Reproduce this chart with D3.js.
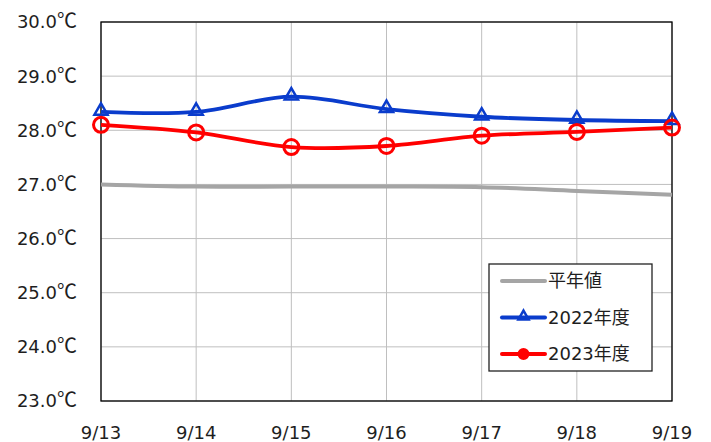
<!DOCTYPE html>
<html>
<head>
<meta charset="utf-8">
<script src="https://cdn.jsdelivr.net/npm/d3@7"></script>
<style>
  body { margin: 0; background: #fff; }
  svg text { font-family: "DejaVu Sans", "Noto Sans CJK JP", sans-serif; fill: #1e1e1e; }
  .cjk { font-family: "Noto Sans CJK JP", sans-serif; }
</style>
</head>
<body>
<div id="chart"></div>
<script>
// data
var dates = ["9/13", "9/14", "9/15", "9/16", "9/17", "9/18", "9/19"];
var normal = [27.0, 26.96, 26.96, 26.96, 26.95, 26.88, 26.81];
var y2022 = [28.34, 28.34, 28.62, 28.39, 28.25, 28.19, 28.17];
var y2023 = [28.1, 27.96, 27.69, 27.71, 27.9, 27.97, 28.05];
var yTicks = [23, 24, 25, 26, 27, 28, 29, 30];
var seriesNames = [["", "平年値"], ["2022", "年度"], ["2023", "年度"]];

var W = 711, H = 442;
var margin = {top: 22, right: 39, bottom: 41, left: 101};

var svg = d3.select("#chart").append("svg")
    .attr("width", W)
    .attr("height", H);

var x = d3.scalePoint().domain(dates).range([margin.left, W - margin.right]);
var y = d3.scaleLinear().domain([23, 30]).range([H - margin.bottom, margin.top]);

// grid
svg.append("g").selectAll("line.h")
  .data(yTicks).enter().append("line")
    .attr("x1", margin.left).attr("x2", W - margin.right)
    .attr("y1", d => y(d)).attr("y2", d => y(d))
    .style("stroke", "#bfbfbf").style("stroke-width", 1);
svg.append("g").selectAll("line.v")
  .data(dates).enter().append("line")
    .attr("x1", d => x(d)).attr("x2", d => x(d))
    .attr("y1", margin.top).attr("y2", H - margin.bottom)
    .style("stroke", "#bfbfbf").style("stroke-width", 1);

// plot border
svg.append("rect")
  .attr("x", margin.left).attr("y", margin.top)
  .attr("width", W - margin.left - margin.right)
  .attr("height", H - margin.top - margin.bottom)
  .style("fill", "none").style("stroke", "#000").style("stroke-width", 1.3);

// axis labels
var yl = svg.append("g").selectAll("text")
  .data(yTicks).enter().append("text")
    .attr("x", 77).attr("y", d => y(d))
    .attr("dy", "0.36em")
    .attr("text-anchor", "end")
    .style("font-size", "18px");
yl.append("tspan").text(d => d.toFixed(1));
yl.append("tspan").attr("class", "cjk").style("font-size", "20px").text("℃");

svg.append("g").selectAll("text")
  .data(dates).enter().append("text")
    .attr("x", d => x(d)).attr("y", 439)
    .attr("text-anchor", "middle")
    .style("font-size", "18px")
    .text(d => d);

var line = d3.line()
  .x((d, i) => x(dates[i]))
  .y(d => y(d))
  .curve(d3.curveCardinal.tension(0));

var colors = {normal: "#a5a5a5", s2022: "#0a3ccc", s2023: "#ff0000"};

svg.append("path").datum(normal).attr("d", line)
  .style("fill", "none").style("stroke", colors.normal).style("stroke-width", 4);
svg.append("path").datum(y2022).attr("d", line)
  .style("fill", "none").style("stroke", colors.s2022).style("stroke-width", 3.8);
svg.append("path").datum(y2023).attr("d", line)
  .style("fill", "none").style("stroke", colors.s2023).style("stroke-width", 3.8);

var tri = d3.symbol().type(d3.symbolTriangle).size(75);

svg.append("g").selectAll("path")
  .data(y2022).enter().append("path")
    .attr("d", tri)
    .attr("transform", (d, i) => "translate(" + x(dates[i]) + "," + (y(d) - 1) + ")")
    .style("fill", "none").style("stroke", colors.s2022).style("stroke-width", 2.5);

svg.append("g").selectAll("circle")
  .data(y2023).enter().append("circle")
    .attr("cx", (d, i) => x(dates[i])).attr("cy", d => y(d))
    .attr("r", 7.5)
    .style("fill", "none").style("stroke", colors.s2023).style("stroke-width", 3);

// legend
var legend = svg.append("g");
legend.append("rect")
  .attr("x", 489).attr("y", 264).attr("width", 163).attr("height", 107)
  .style("fill", "#fff").style("stroke", "#222").style("stroke-width", 1.3);

var legColors = [colors.normal, colors.s2022, colors.s2023];
var items = legend.selectAll("g.item")
  .data(seriesNames).enter().append("g")
    .attr("transform", (d, i) => "translate(0," + (281 + i * 36.5) + ")");
items.append("line")
  .attr("x1", 502).attr("x2", 545).attr("y1", 0).attr("y2", 0)
  .style("stroke", (d, i) => legColors[i]).style("stroke-width", 4)
  .style("stroke-linecap", "round");
var lt = items.append("text")
  .attr("x", 548).attr("y", 0).attr("dy", "0.36em")
  .style("font-size", "18px");
lt.append("tspan").text(d => d[0]);
lt.append("tspan").attr("class", "cjk").text(d => d[1]);
items.filter((d, i) => i === 1).append("path")
  .attr("d", d3.symbol().type(d3.symbolTriangle).size(45))
  .attr("transform", "translate(523.5,-1)")
  .style("fill", "none").style("stroke", colors.s2022).style("stroke-width", 2.5);
items.filter((d, i) => i === 2).append("circle")
  .attr("cx", 523.5).attr("cy", 0).attr("r", 5)
  .style("fill", colors.s2023).style("stroke", colors.s2023).style("stroke-width", 2);
</script>
</body>
</html>
